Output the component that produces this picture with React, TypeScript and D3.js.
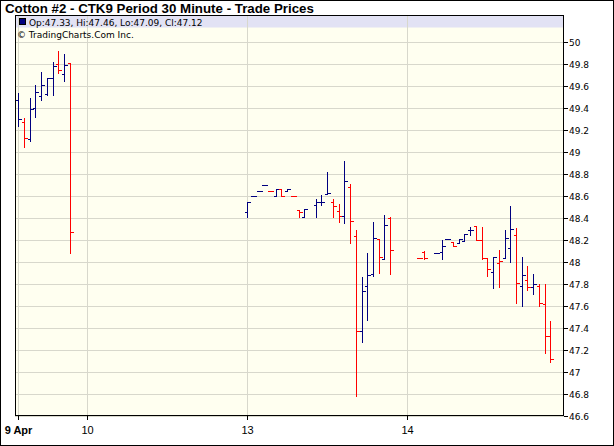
import React from 'react';
import * as d3 from 'd3';

// 30-minute slots (index along the time axis)
const slots = [0, 1, 2, 3, 4, 5, 6, 7, 8, 9,
  40, 41, 42, 43, 44, 45, 46, 47, 48, 49, 50, 52, 53, 54, 55, 56, 57, 58, 59, 60, 61, 62, 63, 64, 65,
  70, 71, 73, 74, 75, 76, 77, 78, 79, 80, 81, 82, 83, 84, 85, 86, 87, 88, 89, 90, 91, 92, 93];
const opens = [49.47, 49.27, 49.12, 49.40, 49.51, 49.53, 49.67, 49.80, 49.71, 49.81,
  48.455, 48.597, 48.65, 48.703, 48.65, 48.60, 48.664, 48.65, 48.603, 48.476, 48.41, 48.52, 48.545, 48.62, 48.55, 48.46, 48.42, 48.68, 48.24, 47.37, 47.78, 47.89, 48.21, 48.03, 48.40,
  48.04, 48.09, 48.085, 48.09, 48.206, 48.18, 48.175, 48.19, 48.29, 48.327, 48.20, 48.04, 47.91, 47.988, 48.04, 48.124, 48.249, 47.779, 47.84, 47.773, 47.785, 47.615, 47.33];
const highs = [49.54, 49.31, 49.49, 49.61, 49.73, 49.67, 49.82, 49.92, 49.89, 49.81,
  48.545, 48.597, 48.65, 48.703, 48.65, 48.664, 48.664, 48.664, 48.603, 48.476, 48.48, 48.57, 48.61, 48.82, 48.575, 48.53, 48.915, 48.71, 48.29, 47.86, 48.08, 48.36, 48.21, 48.43, 48.41,
  48.04, 48.10, 48.085, 48.20, 48.206, 48.18, 48.21, 48.255, 48.32, 48.327, 48.315, 48.04, 48.05, 48.106, 48.29, 48.506, 48.306, 48.042, 47.96, 47.888, 47.803, 47.803, 47.46];
const lows = [49.24, 49.05, 49.10, 49.32, 49.47, 49.52, 49.52, 49.72, 49.65, 48.08,
  48.41, 48.597, 48.65, 48.703, 48.65, 48.60, 48.60, 48.65, 48.603, 48.41, 48.41, 48.41, 48.52, 48.62, 48.41, 48.36, 48.355, 48.17, 46.78, 47.27, 47.47, 47.87, 47.90, 48.03, 47.89,
  48.04, 48.03, 48.085, 48.03, 48.206, 48.15, 48.17, 48.19, 48.25, 48.20, 48.025, 47.873, 47.763, 47.773, 48.04, 48.00, 47.624, 47.60, 47.749, 47.709, 47.60, 47.176, 47.09];
const closes = [49.30, 49.13, 49.39, 49.55, 49.61, 49.67, 49.78, 49.75, 49.79, 48.27,
  48.545, 48.597, 48.65, 48.703, 48.65, 48.664, 48.60, 48.664, 48.603, 48.455, 48.48, 48.545, 48.55, 48.628, 48.51, 48.42, 48.74, 48.37, 47.37, 47.74, 47.88, 48.22, 48.045, 48.34, 48.11,
  48.04, 48.036, 48.085, 48.15, 48.206, 48.15, 48.21, 48.255, 48.29, 48.20, 48.04, 47.933, 48.05, 48.006, 48.22, 48.30, 47.812, 47.885, 47.77, 47.797, 47.63, 47.33, 47.12];

const dayLabels = ['9 Apr', '10', '13', '14'];
const daySlots = [0, 12, 40, 68];
const yTickValues = [46.6, 46.8, 47, 47.2, 47.4, 47.6, 47.8, 48, 48.2, 48.4, 48.6, 48.8, 49, 49.2, 49.4, 49.6, 49.8, 50];
const yTickLabels = ['46.6', '46.8', '47', '47.2', '47.4', '47.6', '47.8', '48', '48.2', '48.4', '48.6', '48.8', '49', '49.2', '49.4', '49.6', '49.8', '50'];

const titleText = 'Cotton #2 - CTK9 Period 30 Minute - Trade Prices';
const legendText = 'Op:47.33, Hi:47.46, Lo:47.09, Cl:47.12';
const creditText = '\u00A9 TradingCharts.Com Inc.';

const W = 614, H = 446;
const L = 15, R = 564, T = 15, B = 416;
const UP = '#000080', DOWN = '#FF0000';
const GRID = '#D8D8CC';
const BG = '#FFFFF0';

export default function App() {
  const x = d3.scaleLinear().domain([-0.58, 95.4]).range([L, R]);
  const y = d3.scaleLinear().domain([46.6, 50.2455]).range([B, T]);
  const cx = (s: number) => Math.round(x(s)) + 0.5;
  const cy = (v: number) => Math.round(y(v)) + 0.5;

  const bars = slots.map((s, i) => {
    const up = i === 0 ? true : closes[i] >= closes[i - 1];
    return { s, o: opens[i], h: highs[i], l: lows[i], c: closes[i], color: up ? UP : DOWN };
  });

  return (
    <svg width={W} height={H} style={{ position: 'absolute', left: 0, top: 0 }}
      fontFamily="'Liberation Sans', Arial, sans-serif">
      <rect x={0} y={0} width={W} height={H} fill="#fff" />
      <rect x={0.5} y={0.5} width={W - 1} height={H - 1} fill="none" stroke="#000" />
      <text x={5} y={12.5} fontSize={13.3} fontWeight="bold" fill="#000">{titleText}</text>

      {/* plot background */}
      <rect x={L} y={T} width={R - L} height={B - T} fill={BG} />
      {/* legend band */}
      <rect x={L + 1} y={T + 1} width={R - L - 1} height={11.5} fill="#E2E2F4" />

      {/* gridlines */}
      <g shapeRendering="crispEdges" stroke={GRID} strokeWidth={1}>
        {yTickValues.map((v, i) => (
          <line key={'h' + i} x1={L} x2={R} y1={cy(v)} y2={cy(v)} />
        ))}
        {daySlots.map((s, i) => (
          <line key={'v' + i} x1={cx(s)} x2={cx(s)} y1={T} y2={B} />
        ))}
      </g>

      {/* legend */}
      <rect x={19.5} y={18.5} width={6} height={6} fill={UP} stroke="#000" strokeWidth={1} shapeRendering="crispEdges" />
      <text x={29} y={25.5} fontSize={9} fontFamily="'DejaVu Sans', sans-serif" fill="#000">{legendText}</text>
      <text x={17} y={37.5} fontSize={9} fontFamily="'DejaVu Sans', sans-serif" fill="#000">{creditText}</text>

      {/* OHLC bars */}
      <g shapeRendering="crispEdges" strokeWidth={1}>
        {bars.map((b, i) => {
          const px = cx(b.s);
          return (
            <g key={i} stroke={b.color}>
              {b.h !== b.l && <line x1={px} x2={px} y1={Math.round(y(b.h))} y2={Math.round(y(b.l)) + 1} />}
              <line x1={px - 3} x2={px} y1={cy(b.o)} y2={cy(b.o)} />
              <line x1={px} x2={px + 3.5} y1={cy(b.c)} y2={cy(b.c)} />
            </g>
          );
        })}
      </g>

      {/* frame */}
      <rect x={L + 0.5} y={T + 0.5} width={R - L - 1} height={B - T - 1} fill="none" stroke="#000" shapeRendering="crispEdges" />

      {/* right axis */}
      <g shapeRendering="crispEdges">
        {yTickValues.map((v, i) => (
          <line key={'rt' + i} x1={R} x2={R + 4} y1={cy(v)} y2={cy(v)} stroke="#000" />
        ))}
      </g>
      {yTickValues.map((v, i) => (
        <text key={'rl' + i} x={R + 5} y={cy(v) + 3.5} fontSize={9} fontFamily="'DejaVu Sans', sans-serif" fill="#000">{yTickLabels[i]}</text>
      ))}

      {/* bottom axis */}
      <g shapeRendering="crispEdges">
        {daySlots.map((s, i) => (
          <line key={'bt' + i} x1={cx(s)} x2={cx(s)} y1={B} y2={B + 4} stroke="#000" />
        ))}
      </g>
      {daySlots.map((s, i) => (
        <text key={'bl' + i} x={cx(s)} y={434} fontSize={11} textAnchor="middle"
          fontWeight={i === 0 ? 'bold' : 'normal'} fill="#000">{dayLabels[i]}</text>
      ))}
    </svg>
  );
}
